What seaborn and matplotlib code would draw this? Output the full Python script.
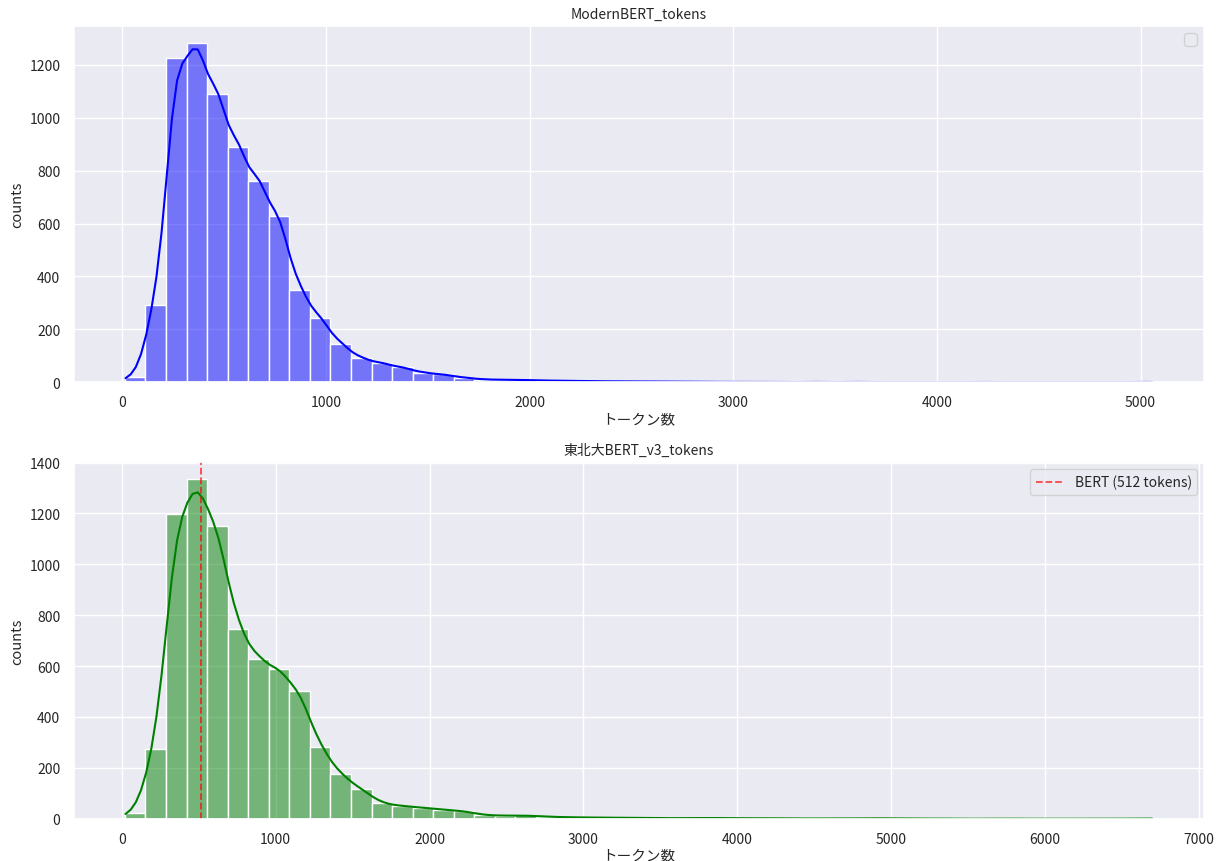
import numpy as np
import pandas as pd
import matplotlib
matplotlib.use("Agg")
import matplotlib.pyplot as plt
import seaborn as sns

# ==========================================
# データ (ヒストグラムのビンごとの件数, 50 bins)
# ==========================================
modern_range = (12, 5060)
modern_counts = [20, 293, 1225, 1284, 1090, 890, 762, 630, 349, 244,
                 145, 90, 72, 56, 36, 29, 17, 10, 9, 8,
                 6, 5, 4, 3, 3, 2, 2, 1, 1, 1,
                 1, 1, 0, 1, 0, 1, 0, 0, 1, 0,
                 0, 1, 0, 0, 0, 0, 0, 0, 0, 1]

tohoku_range = (20, 6700)
tohoku_counts = [22, 275, 1197, 1334, 1149, 746, 628, 589, 504, 283,
                 174, 117, 60, 50, 44, 36, 30, 14, 12, 13,
                 8, 6, 5, 4, 4, 3, 2, 3, 3, 2,
                 2, 2, 1, 1, 1, 1, 2, 1, 0, 1,
                 0, 0, 1, 0, 0, 0, 0, 0, 0, 1]

bert_limit = 512
panels = [
    ("ModernBERT_tokens", modern_range, modern_counts, "blue"),
    ("東北大BERT_v3_tokens", tohoku_range, tohoku_counts, "green"),
]

# ==========================================
# スタイル
# ==========================================
sns.set_theme(style="darkgrid")
plt.rcParams['font.family'] = ['Noto Sans CJK JP', 'DejaVu Sans']
plt.rcParams['axes.unicode_minus'] = False

fig, axes = plt.subplots(2, 1, figsize=(12.25, 8.62), dpi=100)
fig.subplots_adjust(left=0.06, right=0.983, top=0.969, bottom=0.049, hspace=0.225)

for ax, (title, rng, counts, color) in zip(axes, panels):
    edges = np.linspace(rng[0], rng[1], len(counts) + 1)
    df = pd.DataFrame({"tokens": (edges[:-1] + edges[1:]) / 2, "n": counts})
    sns.histplot(data=df, x="tokens", weights="n", bins=len(counts),
                 binrange=rng, kde=True, color=color, alpha=0.5, ax=ax,
                 kde_kws={"bw_adjust": 0.235, "cut": 0.3},
                 line_kws={"linewidth": 1.5})
    ax.set_title(title, fontsize=10)
    ax.set_xlabel("トークン数", fontsize=10.5, labelpad=2)
    ax.set_ylabel("counts", fontsize=10.5)
    ax.tick_params(labelsize=10)

axes[0].legend()
axes[1].axvline(bert_limit, color="red", linestyle="--", alpha=0.7,
                linewidth=1.3, label="BERT (512 tokens)")
axes[1].legend(loc="upper right", fontsize=10)

plt.savefig("out.png", dpi=100)
